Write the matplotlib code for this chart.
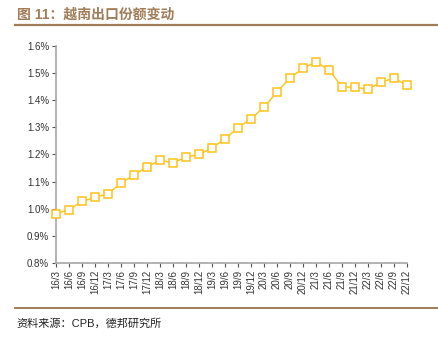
import matplotlib
matplotlib.use("Agg")
import matplotlib.pyplot as plt
from matplotlib.lines import Line2D
from matplotlib.ticker import FuncFormatter, MultipleLocator

plt.rcParams["font.family"] = ["Liberation Sans", "Noto Sans CJK SC", "DejaVu Sans"]

BROWN = "#a07d58"
GOLD = "#ffc21a"
GRAY = "#a6a6a6"

quarters = ["16/3", "16/6", "16/9", "16/12", "17/3", "17/6", "17/9", "17/12",
            "18/3", "18/6", "18/9", "18/12", "19/3", "19/6", "19/9", "19/12",
            "20/3", "20/6", "20/9", "20/12", "21/3", "21/6", "21/9", "21/12",
            "22/3", "22/6", "22/9", "22/12"]
share = [0.982, 0.997, 1.027, 1.042, 1.055, 1.095, 1.124, 1.155,
         1.178, 1.170, 1.190, 1.200, 1.224, 1.258, 1.298, 1.332,
         1.374, 1.430, 1.482, 1.518, 1.541, 1.513, 1.449, 1.448,
         1.441, 1.466, 1.482, 1.455]

fig = plt.figure(figsize=(4.38, 3.37), dpi=100)
ax = fig.add_axes([0.128, 0.2196, 0.801, 0.6439])

x = range(len(quarters))
ax.plot(x, share, color=GOLD, lw=1.0, marker="s", markersize=5.2,
        markerfacecolor="white", markeredgecolor=GOLD, markeredgewidth=1.1,
        clip_on=False, zorder=3)

ax.set_xlim(0, len(quarters) - 1)
ax.set_ylim(0.8, 1.6)
ax.yaxis.set_major_locator(MultipleLocator(0.1))
ax.yaxis.set_major_formatter(FuncFormatter(lambda v, _: f"{v:.1f}%"))
ax.set_xticks(list(x))
ax.set_xticklabels(quarters, rotation=90, fontsize=7, color="#333333")
ax.tick_params(axis="y", labelsize=7, labelcolor="#333333", length=3,
               width=0.8, color="#555555", direction="out", pad=2)
ax.tick_params(axis="x", length=3, width=0.8, color="#555555", direction="out", pad=2)

for s in ("top", "right"):
    ax.spines[s].set_visible(False)
for s in ("left", "bottom"):
    ax.spines[s].set_color(GRAY)
    ax.spines[s].set_linewidth(1.2)

# header and footer
fig.text(0.038, 0.955, "图 11：越南出口份额变动", fontsize=10, fontweight="bold",
         color=BROWN, va="center", ha="left")
fig.add_artist(Line2D([0.034, 1.0], [0.925, 0.925], color=BROWN, lw=1.6))
fig.add_artist(Line2D([0.034, 1.0], [0.086, 0.086], color=BROWN, lw=1.4))
fig.text(0.038, 0.039, "资料来源：CPB，德邦研究所", fontsize=8, color="#222222",
         va="center", ha="left")

fig.savefig("out.png", dpi=100)
